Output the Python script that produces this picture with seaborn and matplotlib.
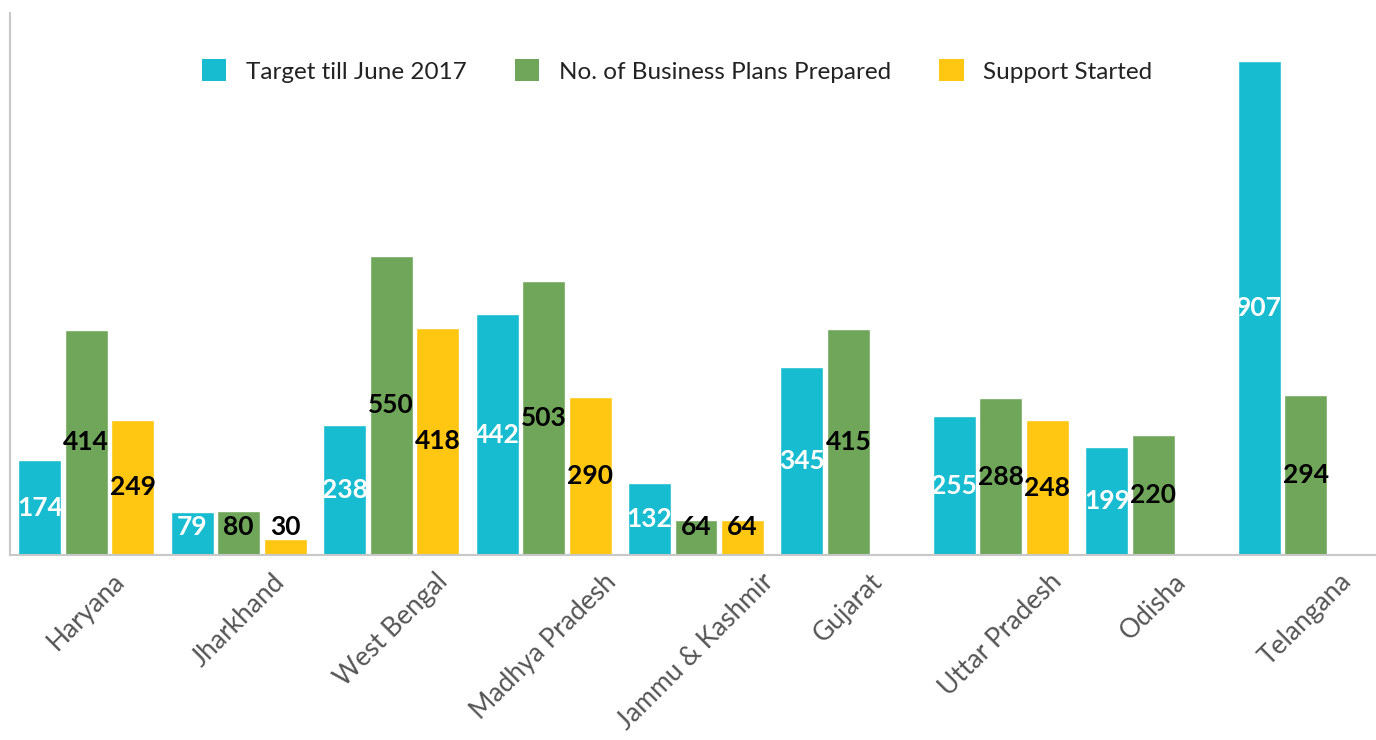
import matplotlib
matplotlib.use("Agg")
import matplotlib.pyplot as plt
import seaborn as sns
import pandas as pd
import numpy as np
from matplotlib.patches import Patch

states = ["Haryana", "Jharkhand", "West Bengal", "Madhya Pradesh", "Jammu & Kashmir",
          "Gujarat", "Uttar Pradesh", "Odisha", "Telangana"]
target = [174, 79, 238, 442, 132, 345, 255, 199, 907]
plans = [414, 80, 550, 503, 64, 415, 288, 220, 294]
support = [249, 30, 418, 290, 64, np.nan, 248, np.nan, np.nan]
series = ["Target till June 2017", "No. of Business Plans Prepared", "Support Started"]
colors = ["#17BCD0", "#70A65A", "#FFC612"]

rows = []
for s, vals in zip(series, [target, plans, support]):
    for st, v in zip(states, vals):
        rows.append({"State": st, "Series": s, "Value": v})
df = pd.DataFrame(rows)

sns.set_theme(style="white")
plt.rcParams['font.family'] = ['Lato', 'DejaVu Sans']

fig = plt.figure(figsize=(13.76, 7.4), dpi=100)
ax = fig.add_axes([10 / 1376, 185 / 740, 1372 / 1376, 542 / 740])

sns.barplot(data=df, x="State", y="Value", hue="Series", palette=colors,
            hue_order=series, order=states, width=0.915, dodge=True,
            legend=False, ax=ax, saturation=1, errorbar=None)

bw = 0.282
for ci, cont in enumerate(ax.containers):
    for p in cont.patches:
        h = p.get_height()
        if np.isnan(h) or h == 0:
            continue
        cx = p.get_x() + p.get_width() / 2
        p.set_width(bw)
        p.set_x(cx - bw / 2)
        y = max(h / 2, 51)
        ax.text(cx, y, f"{int(round(h))}", ha="center", va="center",
                fontsize=19, fontweight="bold",
                color="white" if ci == 0 else "black", zorder=5)

ax.set_ylim(0, 996)
ax.set_xlim(-0.5, 8.5)
ax.set_xlabel("")
ax.set_ylabel("")
ax.set_yticks([])
ax.tick_params(axis="x", length=0, pad=10)
for lbl in ax.get_xticklabels():
    lbl.set_rotation(45)
    lbl.set_ha("center")
    lbl.set_va("top")
    lbl.set_fontsize(19)
    lbl.set_color("#555555")

for side in ["top", "right"]:
    ax.spines[side].set_visible(False)
for side in ["left", "bottom"]:
    ax.spines[side].set_color("#C8C8C8")
    ax.spines[side].set_linewidth(1.5)

handles = [Patch(facecolor=c, edgecolor="none") for c in colors]
fig.legend(handles, series, loc="center", bbox_to_anchor=(677 / 1376, 1 - 71 / 740),
           ncol=3, frameon=False, fontsize=17.5, handlelength=1.0, handleheight=1.0,
           handletextpad=0.8, columnspacing=2.0, labelcolor="#222222")

fig.savefig("out.png", dpi=100)
